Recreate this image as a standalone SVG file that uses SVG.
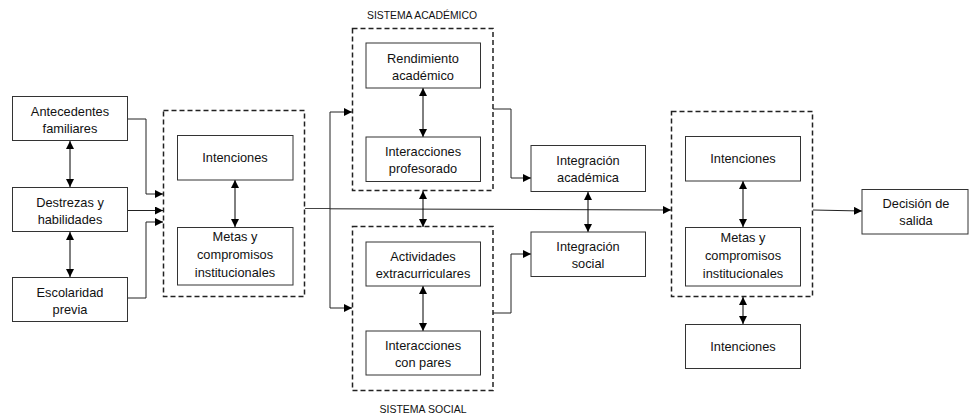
<svg xmlns="http://www.w3.org/2000/svg" width="969" height="417" viewBox="0 0 969 417">
  <defs>
    <marker id="ah" viewBox="0 0 10 10" refX="10" refY="5" markerWidth="8" markerHeight="8" markerUnits="userSpaceOnUse" orient="auto-start-reverse">
      <path d="M0,0 L10,5 L0,10 Z" fill="#000"/>
    </marker>
    <style>
      .box { fill: #fff; stroke: #333; stroke-width: 1; }
      .grp { fill: none; stroke: #222; stroke-width: 1.5; stroke-dasharray: 5 3; }
      .lbl { font-family: "Liberation Sans", Arial, sans-serif; font-size: 12.8px; fill: #111; text-anchor: middle; }
      .sys { font-family: "Liberation Sans", Arial, sans-serif; font-size: 10.5px; fill: #111; text-anchor: middle; }
      .ln { fill: none; stroke: #444; stroke-width: 1; }
      .arr { fill: none; stroke: #222; stroke-width: 1; marker-end: url(#ah); }
      .bi { fill: none; stroke: #000; stroke-width: 1; marker-start: url(#ah); marker-end: url(#ah); }
    </style>
  </defs>
  <rect width="969" height="417" fill="#fff"/>

  <!-- dashed group frames and their titles -->
  <g id="frames">
    <rect class="grp" x="163.5" y="110.5" width="141" height="186"/>
    <rect class="grp" x="352.5" y="28.5" width="140.5" height="162"/>
    <rect class="grp" x="352.5" y="226.5" width="140.5" height="164"/>
    <rect class="grp" x="671.5" y="111.5" width="141" height="185"/>
    <text class="sys" x="422" y="19" textLength="110" lengthAdjust="spacingAndGlyphs">SISTEMA ACADÉMICO</text>
    <text class="sys" x="423" y="413" textLength="87" lengthAdjust="spacingAndGlyphs">SISTEMA SOCIAL</text>
  </g>

  <!-- connectors -->
  <g id="connectors">
    <line class="bi" x1="70" y1="141" x2="70" y2="187"/>
    <line class="bi" x1="70" y1="232" x2="70" y2="277"/>
    <polyline class="arr" points="127,119 146,119 146,194 163,194"/>
    <line class="arr" x1="127" y1="210.5" x2="163" y2="210.5"/>
    <polyline class="arr" points="127,298 146,298 146,222 163,222"/>
    <line class="bi" x1="235" y1="180" x2="235" y2="227"/>
    <line class="ln" x1="305" y1="208.5" x2="330" y2="208.5"/>
    <line class="arr" x1="330" y1="208.8" x2="671" y2="210"/>
    <polyline class="arr" points="330,208.5 330,112 352,112"/>
    <polyline class="arr" points="330,208.5 330,308 352,308"/>
    <line class="bi" x1="423" y1="88" x2="423" y2="137"/>
    <line class="bi" x1="423" y1="191" x2="423" y2="227"/>
    <line class="bi" x1="423" y1="286" x2="423" y2="331"/>
    <polyline class="arr" points="493,109 511,109 511,178 531,178"/>
    <polyline class="arr" points="493,313 511,313 511,254 531,254"/>
    <line class="bi" x1="588" y1="192" x2="588" y2="232"/>
    <line class="bi" x1="743" y1="181" x2="743" y2="227"/>
    <line class="bi" x1="743" y1="297" x2="743" y2="324"/>
    <line class="arr" x1="813" y1="210" x2="862" y2="211"/>
  </g>

  <g id="antecedentes">
    <rect class="box" x="12.5" y="96.5" width="115" height="44"/>
    <text class="lbl" x="70" y="116">Antecedentes</text>
    <text class="lbl" x="70" y="133">familiares</text>
  </g>
  <g id="destrezas">
    <rect class="box" x="12.5" y="187.5" width="115" height="44"/>
    <text class="lbl" x="70" y="207">Destrezas y</text>
    <text class="lbl" x="70" y="224">habilidades</text>
  </g>
  <g id="escolaridad">
    <rect class="box" x="12.5" y="277.5" width="115" height="44"/>
    <text class="lbl" x="70" y="297">Escolaridad</text>
    <text class="lbl" x="70" y="314">previa</text>
  </g>

  <g id="intenciones1">
    <rect class="box" x="177.5" y="135.5" width="115.5" height="44.5"/>
    <text class="lbl" x="235" y="162">Intenciones</text>
  </g>
  <g id="metas1">
    <rect class="box" x="177.5" y="227.5" width="115.5" height="57.5"/>
    <text class="lbl" x="235" y="241">Metas y</text>
    <text class="lbl" x="235" y="259">compromisos</text>
    <text class="lbl" x="235" y="277">institucionales</text>
  </g>

  <g id="rendimiento">
    <rect class="box" x="366" y="43" width="114.5" height="45"/>
    <text class="lbl" x="423" y="63">Rendimiento</text>
    <text class="lbl" x="423" y="80">académico</text>
  </g>
  <g id="interacciones-profesorado">
    <rect class="box" x="366" y="137" width="114.5" height="44.5"/>
    <text class="lbl" x="423" y="156">Interacciones</text>
    <text class="lbl" x="423" y="173">profesorado</text>
  </g>
  <g id="actividades">
    <rect class="box" x="366" y="242" width="114.5" height="44"/>
    <text class="lbl" x="423" y="261">Actividades</text>
    <text class="lbl" x="423" y="278">extracurriculares</text>
  </g>
  <g id="interacciones-pares">
    <rect class="box" x="366" y="331" width="114.5" height="44"/>
    <text class="lbl" x="423" y="350">Interacciones</text>
    <text class="lbl" x="423" y="367">con pares</text>
  </g>

  <g id="integracion-academica">
    <rect class="box" x="531" y="145.5" width="114.5" height="46"/>
    <text class="lbl" x="588" y="165">Integración</text>
    <text class="lbl" x="588" y="182">académica</text>
  </g>
  <g id="integracion-social">
    <rect class="box" x="531" y="232" width="114.5" height="44.5"/>
    <text class="lbl" x="588" y="251">Integración</text>
    <text class="lbl" x="588" y="268">social</text>
  </g>

  <g id="intenciones2">
    <rect class="box" x="685.5" y="136.5" width="115" height="44.5"/>
    <text class="lbl" x="743" y="163">Intenciones</text>
  </g>
  <g id="metas2">
    <rect class="box" x="685.5" y="227.5" width="115" height="58.5"/>
    <text class="lbl" x="743" y="242">Metas y</text>
    <text class="lbl" x="743" y="260">compromisos</text>
    <text class="lbl" x="743" y="278">institucionales</text>
  </g>
  <g id="intenciones3">
    <rect class="box" x="685.5" y="324.5" width="115" height="44"/>
    <text class="lbl" x="743" y="351">Intenciones</text>
  </g>

  <g id="decision">
    <rect class="box" x="862" y="189.5" width="106" height="44.5"/>
    <text class="lbl" x="916" y="208">Decisión de</text>
    <text class="lbl" x="916" y="225">salida</text>
  </g>
</svg>
